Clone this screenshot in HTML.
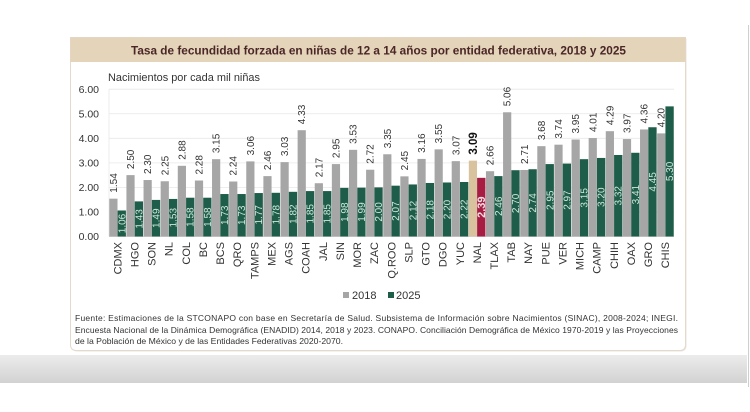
<!DOCTYPE html>
<html><head><meta charset="utf-8"><style>
html,body{margin:0;padding:0;background:#fff;}
svg{display:block;font-family:"Liberation Sans",sans-serif;}
</style></head><body>
<svg width="750" height="412" viewBox="0 0 750 412" xmlns="http://www.w3.org/2000/svg">
<defs>
<linearGradient id="band" x1="0" y1="0" x2="0" y2="1">
<stop offset="0" stop-color="#ececec"/><stop offset="1" stop-color="#d2d2d2"/>
</linearGradient>
</defs>
<rect width="750" height="412" fill="#fff"/>
<line x1="748.5" y1="25" x2="748.5" y2="387" stroke="#cfcfcf" stroke-width="1"/>
<rect x="0" y="355" width="747" height="28" fill="url(#band)"/>
<!-- card -->
<path d="M71.5,38.5 H686.5 V345.5 Q686.5,351.5 680.5,351.5 H77.5 Q71.5,351.5 71.5,345.5 Z" fill="#e9e5df"/>
<path d="M70.5,37.5 H685.5 V344.5 Q685.5,350.5 679.5,350.5 H76.5 Q70.5,350.5 70.5,344.5 Z" fill="#fff" stroke="#e3d9cc" stroke-width="1"/>
<rect x="70.5" y="37.5" width="615" height="24.5" fill="#e4d4ba"/>
<text x="378.5" y="54.5" font-size="11.5" font-weight="bold" fill="#4a2626" text-anchor="middle" textLength="495" lengthAdjust="spacingAndGlyphs">Tasa de fecundidad forzada en niñas de 12 a 14 años por entidad federativa, 2018 y 2025</text>
<text x="108" y="81" font-size="11" fill="#333" textLength="152" lengthAdjust="spacingAndGlyphs">Nacimientos por cada mil niñas</text>
<!-- grid -->
<g stroke="#e8e8e8" stroke-width="0.8">
<line x1="109" y1="89.2" x2="674" y2="89.2"/>
<line x1="109" y1="113.75" x2="674" y2="113.75"/>
<line x1="109" y1="138.3" x2="674" y2="138.3"/>
<line x1="109" y1="162.85" x2="674" y2="162.85"/>
<line x1="109" y1="187.4" x2="674" y2="187.4"/>
<line x1="109" y1="211.95" x2="674" y2="211.95"/>
<line x1="109" y1="89.2" x2="109" y2="236.5"/>
</g>
<line x1="109" y1="236.5" x2="674" y2="236.5" stroke="#c8c8c8" stroke-width="0.8"/>
<g font-size="10.5" fill="#333" text-anchor="end">
<text x="99" y="92.9">6.00</text>
<text x="99" y="117.45">5.00</text>
<text x="99" y="142">4.00</text>
<text x="99" y="166.55">3.00</text>
<text x="99" y="191.1">2.00</text>
<text x="99" y="215.65">1.00</text>
<text x="99" y="240.2">0.00</text>
</g>
<!-- bars -->
<g fill="#a6a6a6">
<rect x="109.3" y="198.69" width="8.2" height="37.81"/>
<rect x="126.42" y="175.12" width="8.2" height="61.38"/>
<rect x="143.54" y="180.03" width="8.2" height="56.47"/>
<rect x="160.66" y="181.26" width="8.2" height="55.24"/>
<rect x="177.78" y="165.8" width="8.2" height="70.7"/>
<rect x="194.9" y="180.53" width="8.2" height="55.97"/>
<rect x="212.02" y="159.17" width="8.2" height="77.33"/>
<rect x="229.14" y="181.51" width="8.2" height="54.99"/>
<rect x="246.26" y="161.38" width="8.2" height="75.12"/>
<rect x="263.38" y="176.11" width="8.2" height="60.39"/>
<rect x="280.5" y="162.11" width="8.2" height="74.39"/>
<rect x="297.62" y="130.2" width="8.2" height="106.3"/>
<rect x="314.74" y="183.23" width="8.2" height="53.27"/>
<rect x="331.86" y="164.08" width="8.2" height="72.42"/>
<rect x="348.98" y="149.84" width="8.2" height="86.66"/>
<rect x="366.1" y="169.72" width="8.2" height="66.78"/>
<rect x="383.22" y="154.26" width="8.2" height="82.24"/>
<rect x="400.34" y="176.35" width="8.2" height="60.15"/>
<rect x="417.46" y="158.92" width="8.2" height="77.58"/>
<rect x="434.58" y="149.35" width="8.2" height="87.15"/>
<rect x="451.7" y="161.13" width="8.2" height="75.37"/>
<rect x="468.82" y="160.64" width="8.2" height="75.86" fill="#d9c39e"/>
<rect x="485.94" y="171.2" width="8.2" height="65.3"/>
<rect x="503.06" y="112.28" width="8.2" height="124.22"/>
<rect x="520.18" y="169.97" width="8.2" height="66.53"/>
<rect x="537.3" y="146.16" width="8.2" height="90.34"/>
<rect x="554.42" y="144.68" width="8.2" height="91.82"/>
<rect x="571.54" y="139.53" width="8.2" height="96.97"/>
<rect x="588.66" y="138.05" width="8.2" height="98.45"/>
<rect x="605.78" y="131.18" width="8.2" height="105.32"/>
<rect x="622.9" y="139.04" width="8.2" height="97.46"/>
<rect x="640.02" y="129.46" width="8.2" height="107.04"/>
<rect x="657.14" y="133.39" width="8.2" height="103.11"/>
</g>
<g fill="#1e5d49">
<rect x="117.6" y="210.48" width="8.3" height="26.02"/>
<rect x="134.72" y="201.39" width="8.3" height="35.11"/>
<rect x="151.84" y="199.92" width="8.3" height="36.58"/>
<rect x="168.96" y="198.94" width="8.3" height="37.56"/>
<rect x="186.08" y="197.71" width="8.3" height="38.79"/>
<rect x="203.2" y="197.71" width="8.3" height="38.79"/>
<rect x="220.32" y="194.03" width="8.3" height="42.47"/>
<rect x="237.44" y="194.03" width="8.3" height="42.47"/>
<rect x="254.56" y="193.05" width="8.3" height="43.45"/>
<rect x="271.68" y="192.8" width="8.3" height="43.7"/>
<rect x="288.8" y="191.82" width="8.3" height="44.68"/>
<rect x="305.92" y="191.08" width="8.3" height="45.42"/>
<rect x="323.04" y="191.08" width="8.3" height="45.42"/>
<rect x="340.16" y="187.89" width="8.3" height="48.61"/>
<rect x="357.28" y="187.65" width="8.3" height="48.85"/>
<rect x="374.4" y="187.4" width="8.3" height="49.1"/>
<rect x="391.52" y="185.68" width="8.3" height="50.82"/>
<rect x="408.64" y="184.45" width="8.3" height="52.05"/>
<rect x="425.76" y="182.98" width="8.3" height="53.52"/>
<rect x="442.88" y="182.49" width="8.3" height="54.01"/>
<rect x="460" y="182" width="8.3" height="54.5"/>
<rect x="477.12" y="177.83" width="8.3" height="58.67" fill="#a61c42"/>
<rect x="494.24" y="176.11" width="8.3" height="60.39"/>
<rect x="511.36" y="170.21" width="8.3" height="66.29"/>
<rect x="528.48" y="169.23" width="8.3" height="67.27"/>
<rect x="545.6" y="164.08" width="8.3" height="72.42"/>
<rect x="562.72" y="163.59" width="8.3" height="72.91"/>
<rect x="579.84" y="159.17" width="8.3" height="77.33"/>
<rect x="596.96" y="157.94" width="8.3" height="78.56"/>
<rect x="614.08" y="154.99" width="8.3" height="81.51"/>
<rect x="631.2" y="152.78" width="8.3" height="83.72"/>
<rect x="648.32" y="127.25" width="8.3" height="109.25"/>
<rect x="665.44" y="106.38" width="8.3" height="130.12"/>
</g>
<!-- gray value labels -->
<g font-size="10" fill="#333">
<text transform="translate(113.4,192.69) rotate(-90)" dy="0.35em">1.54</text>
<text transform="translate(130.52,169.12) rotate(-90)" dy="0.35em">2.50</text>
<text transform="translate(147.64,174.03) rotate(-90)" dy="0.35em">2.30</text>
<text transform="translate(164.76,175.26) rotate(-90)" dy="0.35em">2.25</text>
<text transform="translate(181.88,159.8) rotate(-90)" dy="0.35em">2.88</text>
<text transform="translate(199,174.53) rotate(-90)" dy="0.35em">2.28</text>
<text transform="translate(216.12,153.17) rotate(-90)" dy="0.35em">3.15</text>
<text transform="translate(233.24,175.51) rotate(-90)" dy="0.35em">2.24</text>
<text transform="translate(250.36,155.38) rotate(-90)" dy="0.35em">3.06</text>
<text transform="translate(267.48,170.11) rotate(-90)" dy="0.35em">2.46</text>
<text transform="translate(284.6,156.11) rotate(-90)" dy="0.35em">3.03</text>
<text transform="translate(301.72,124.2) rotate(-90)" dy="0.35em">4.33</text>
<text transform="translate(318.84,177.23) rotate(-90)" dy="0.35em">2.17</text>
<text transform="translate(335.96,158.08) rotate(-90)" dy="0.35em">2.95</text>
<text transform="translate(353.08,143.84) rotate(-90)" dy="0.35em">3.53</text>
<text transform="translate(370.2,163.72) rotate(-90)" dy="0.35em">2.72</text>
<text transform="translate(387.32,148.26) rotate(-90)" dy="0.35em">3.35</text>
<text transform="translate(404.44,170.35) rotate(-90)" dy="0.35em">2.45</text>
<text transform="translate(421.56,152.92) rotate(-90)" dy="0.35em">3.16</text>
<text transform="translate(438.68,143.35) rotate(-90)" dy="0.35em">3.55</text>
<text transform="translate(455.8,155.13) rotate(-90)" dy="0.35em">3.07</text>
<text transform="translate(472.92,154.64) rotate(-90)" dy="0.35em" font-size="11.5" font-weight="bold" fill="#111">3.09</text>
<text transform="translate(490.04,165.2) rotate(-90)" dy="0.35em">2.66</text>
<text transform="translate(507.16,106.28) rotate(-90)" dy="0.35em">5.06</text>
<text transform="translate(524.28,163.97) rotate(-90)" dy="0.35em">2.71</text>
<text transform="translate(541.4,140.16) rotate(-90)" dy="0.35em">3.68</text>
<text transform="translate(558.52,138.68) rotate(-90)" dy="0.35em">3.74</text>
<text transform="translate(575.64,133.53) rotate(-90)" dy="0.35em">3.95</text>
<text transform="translate(592.76,132.05) rotate(-90)" dy="0.35em">4.01</text>
<text transform="translate(609.88,125.18) rotate(-90)" dy="0.35em">4.29</text>
<text transform="translate(627,133.04) rotate(-90)" dy="0.35em">3.97</text>
<text transform="translate(644.12,123.46) rotate(-90)" dy="0.35em">4.36</text>
<text transform="translate(661.24,127.39) rotate(-90)" dy="0.35em">4.20</text>
</g>
<!-- green value labels -->
<g font-size="10" fill="#cfe8dc" text-anchor="middle">
<text transform="translate(121.75,223.49) rotate(-90)" dy="0.35em">1.06</text>
<text transform="translate(138.87,218.95) rotate(-90)" dy="0.35em">1.43</text>
<text transform="translate(155.99,218.21) rotate(-90)" dy="0.35em">1.49</text>
<text transform="translate(173.11,217.72) rotate(-90)" dy="0.35em">1.53</text>
<text transform="translate(190.23,217.11) rotate(-90)" dy="0.35em">1.58</text>
<text transform="translate(207.35,217.11) rotate(-90)" dy="0.35em">1.58</text>
<text transform="translate(224.47,215.27) rotate(-90)" dy="0.35em">1.73</text>
<text transform="translate(241.59,215.27) rotate(-90)" dy="0.35em">1.73</text>
<text transform="translate(258.71,214.78) rotate(-90)" dy="0.35em">1.77</text>
<text transform="translate(275.83,214.65) rotate(-90)" dy="0.35em">1.78</text>
<text transform="translate(292.95,214.16) rotate(-90)" dy="0.35em">1.82</text>
<text transform="translate(310.07,213.79) rotate(-90)" dy="0.35em">1.85</text>
<text transform="translate(327.19,213.79) rotate(-90)" dy="0.35em">1.85</text>
<text transform="translate(344.31,212.2) rotate(-90)" dy="0.35em">1.98</text>
<text transform="translate(361.43,212.07) rotate(-90)" dy="0.35em">1.99</text>
<text transform="translate(378.55,211.95) rotate(-90)" dy="0.35em">2.00</text>
<text transform="translate(395.67,211.09) rotate(-90)" dy="0.35em">2.07</text>
<text transform="translate(412.79,210.48) rotate(-90)" dy="0.35em">2.12</text>
<text transform="translate(429.91,209.74) rotate(-90)" dy="0.35em">2.18</text>
<text transform="translate(447.03,209.5) rotate(-90)" dy="0.35em">2.20</text>
<text transform="translate(464.15,209.25) rotate(-90)" dy="0.35em">2.22</text>
<text transform="translate(481.27,207.17) rotate(-90)" dy="0.35em" font-weight="bold" font-size="11" fill="#f5dde4">2.39</text>
<text transform="translate(498.39,206.31) rotate(-90)" dy="0.35em">2.46</text>
<text transform="translate(515.51,203.36) rotate(-90)" dy="0.35em">2.70</text>
<text transform="translate(532.63,202.87) rotate(-90)" dy="0.35em">2.74</text>
<text transform="translate(549.75,200.29) rotate(-90)" dy="0.35em">2.95</text>
<text transform="translate(566.87,200.05) rotate(-90)" dy="0.35em">2.97</text>
<text transform="translate(583.99,197.84) rotate(-90)" dy="0.35em">3.15</text>
<text transform="translate(601.11,197.22) rotate(-90)" dy="0.35em">3.20</text>
<text transform="translate(618.23,195.75) rotate(-90)" dy="0.35em">3.32</text>
<text transform="translate(635.35,194.64) rotate(-90)" dy="0.35em">3.41</text>
<text transform="translate(652.47,181.88) rotate(-90)" dy="0.35em">4.45</text>
<text transform="translate(669.59,171.44) rotate(-90)" dy="0.35em">5.30</text>
</g>
<!-- x labels -->
<g font-size="11" fill="#333" text-anchor="end">
<text transform="translate(117.5,242) rotate(-90)" dy="0.35em">CDMX</text>
<text transform="translate(134.62,242) rotate(-90)" dy="0.35em">HGO</text>
<text transform="translate(151.74,242) rotate(-90)" dy="0.35em">SON</text>
<text transform="translate(168.86,242) rotate(-90)" dy="0.35em">NL</text>
<text transform="translate(185.98,242) rotate(-90)" dy="0.35em">COL</text>
<text transform="translate(203.1,242) rotate(-90)" dy="0.35em">BC</text>
<text transform="translate(220.22,242) rotate(-90)" dy="0.35em">BCS</text>
<text transform="translate(237.34,242) rotate(-90)" dy="0.35em">QRO</text>
<text transform="translate(254.46,242) rotate(-90)" dy="0.35em">TAMPS</text>
<text transform="translate(271.58,242) rotate(-90)" dy="0.35em">MEX</text>
<text transform="translate(288.7,242) rotate(-90)" dy="0.35em">AGS</text>
<text transform="translate(305.82,242) rotate(-90)" dy="0.35em">COAH</text>
<text transform="translate(322.94,242) rotate(-90)" dy="0.35em">JAL</text>
<text transform="translate(340.06,242) rotate(-90)" dy="0.35em">SIN</text>
<text transform="translate(357.18,242) rotate(-90)" dy="0.35em">MOR</text>
<text transform="translate(374.3,242) rotate(-90)" dy="0.35em">ZAC</text>
<text transform="translate(391.42,242) rotate(-90)" dy="0.35em">Q.ROO</text>
<text transform="translate(408.54,242) rotate(-90)" dy="0.35em">SLP</text>
<text transform="translate(425.66,242) rotate(-90)" dy="0.35em">GTO</text>
<text transform="translate(442.78,242) rotate(-90)" dy="0.35em">DGO</text>
<text transform="translate(459.9,242) rotate(-90)" dy="0.35em">YUC</text>
<text transform="translate(477.02,242) rotate(-90)" dy="0.35em">NAL</text>
<text transform="translate(494.14,242) rotate(-90)" dy="0.35em">TLAX</text>
<text transform="translate(511.26,242) rotate(-90)" dy="0.35em">TAB</text>
<text transform="translate(528.38,242) rotate(-90)" dy="0.35em">NAY</text>
<text transform="translate(545.5,242) rotate(-90)" dy="0.35em">PUE</text>
<text transform="translate(562.62,242) rotate(-90)" dy="0.35em">VER</text>
<text transform="translate(579.74,242) rotate(-90)" dy="0.35em">MICH</text>
<text transform="translate(596.86,242) rotate(-90)" dy="0.35em">CAMP</text>
<text transform="translate(613.98,242) rotate(-90)" dy="0.35em">CHIH</text>
<text transform="translate(631.1,242) rotate(-90)" dy="0.35em">OAX</text>
<text transform="translate(648.22,242) rotate(-90)" dy="0.35em">GRO</text>
<text transform="translate(665.34,242) rotate(-90)" dy="0.35em">CHIS</text>
</g>
<!-- legend -->
<rect x="343" y="292" width="6" height="6" fill="#a6a6a6"/>
<text x="352" y="299" font-size="11" fill="#333">2018</text>
<rect x="388" y="292" width="6" height="6" fill="#1e5d49"/>
<text x="396" y="299" font-size="11" fill="#333">2025</text>
<!-- footer -->
<g font-size="8.5" fill="#333">
<text x="75" y="321" textLength="603" lengthAdjust="spacing">Fuente: Estimaciones de la STCONAPO con base en Secretaría de Salud. Subsistema de Información sobre Nacimientos (SINAC), 2008-2024; INEGI.</text>
<text x="75" y="333" textLength="603" lengthAdjust="spacing">Encuesta Nacional de la Dinámica Demográfica (ENADID) 2014, 2018 y 2023. CONAPO. Conciliación Demográfica de México 1970-2019 y las Proyecciones</text>
<text x="75" y="344" textLength="268" lengthAdjust="spacingAndGlyphs">de la Población de México y de las Entidades Federativas 2020-2070.</text>
</g>
</svg>
</body></html>
